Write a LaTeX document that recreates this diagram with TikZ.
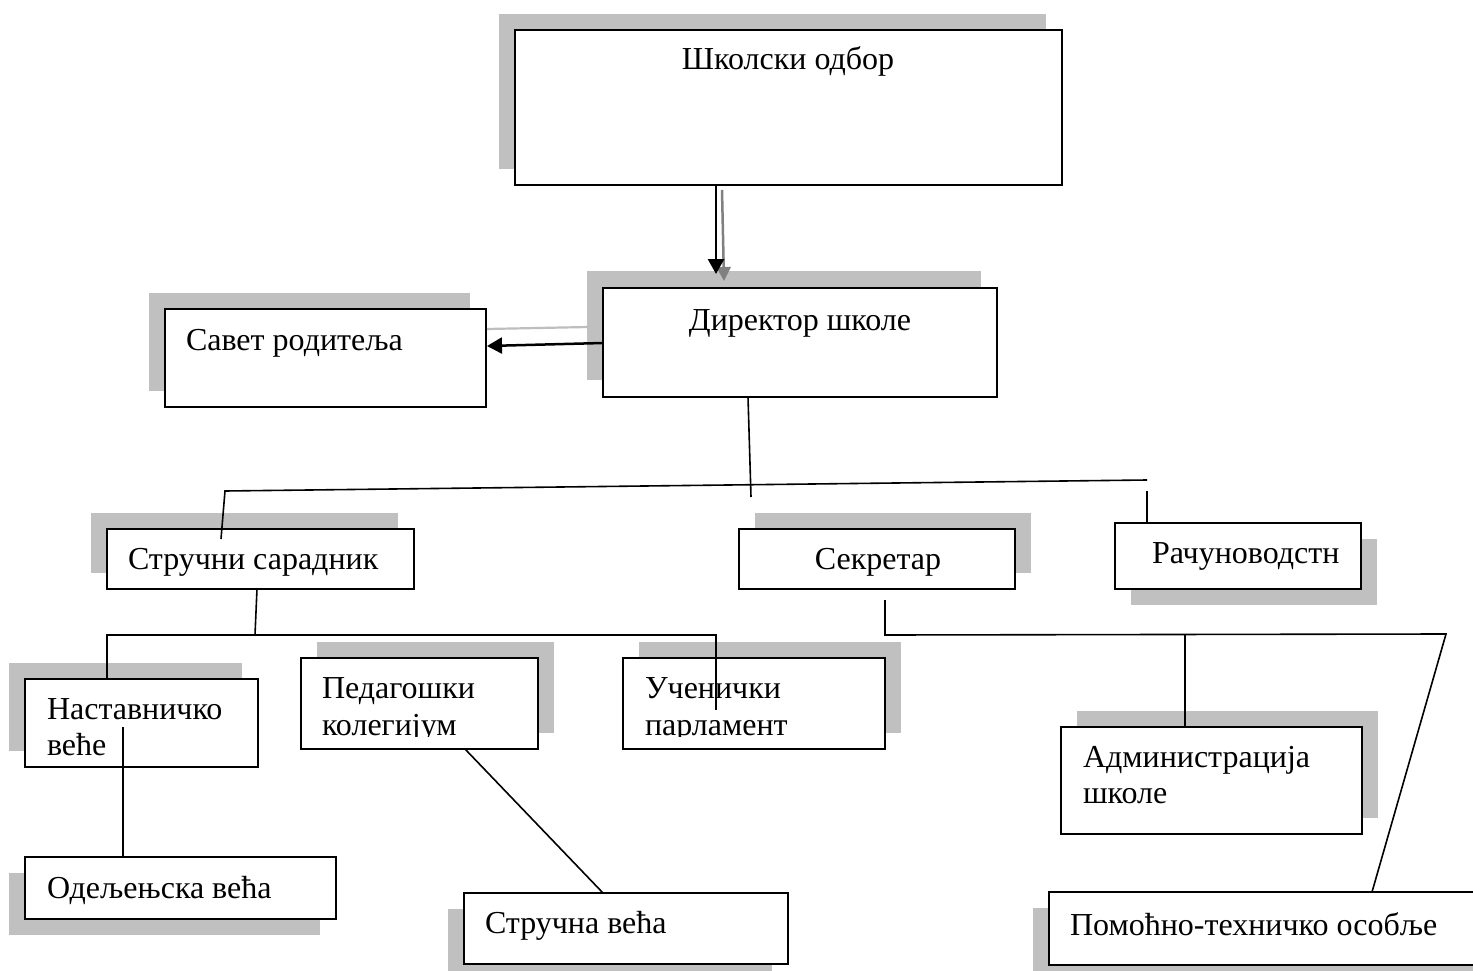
\documentclass[tikz,border=0pt]{standalone}
\usepackage{fontspec}
\setmainfont{Liberation Serif}
\usetikzlibrary{arrows.meta}
\definecolor{shadowgray}{RGB}{192,192,192}
\definecolor{arrowgray}{RGB}{128,128,128}
\definecolor{linegray}{RGB}{190,190,190}
\tikzset{
  boxst/.style={draw=black, fill=white, line width=2pt, inner sep=0pt, outer sep=0pt},
  txt/.style={inner sep=0pt, outer sep=0pt, font=\fontsize{32}{36}\selectfont},
  conn/.style={line width=1.6pt, line join=miter},
  arr/.style={line width=2.5pt, -{Triangle[width=16pt,length=15pt]}},
  garr/.style={draw=arrowgray, line width=2.5pt, -{Triangle[width=14pt,length=14pt,fill=arrowgray]}},
  gline/.style={draw=linegray, line width=2.2pt},
}
\newcommand\orgbox[7]{%
  \fill[shadowgray] ({#2+(#6)},{#3+(#7)}) rectangle ({#4+(#6)},{#5+(#7)});
  \node[boxst, minimum width={#4-#2}, minimum height={#5-#3}, anchor=north west] (#1) at (#2,#3) {};
}
\begin{document}
\begin{tikzpicture}[x=1pt,y=-1pt]
\useasboundingbox (0,0) rectangle (1473,971);
\clip (0,0) rectangle (1473,971);
\fill[white] (0,0) rectangle (1473,971);

% boxes with shadows
\orgbox{odbor}{515}{30}{1062}{185}{-16}{-16}
\orgbox{dir}{603}{288}{997}{397}{-16}{-17}
\orgbox{savet}{165}{309}{486}{407}{-16}{-16}
\orgbox{strs}{107}{529}{414}{589}{-16}{-16}
\orgbox{sekr}{739}{529}{1015}{589}{16}{-16}
\orgbox{racun}{1115}{523}{1361}{589}{16}{16}
\orgbox{nast}{25}{679}{258}{767}{-16}{-16}
\orgbox{ped}{301}{658}{538}{749}{16}{-16}
\orgbox{ucen}{623}{658}{885}{749}{16}{-16}
\orgbox{adm}{1061}{727}{1362}{834}{16}{-16}
\orgbox{odelj}{25}{857}{336}{919}{-16}{16}
\orgbox{strv}{464}{893}{788}{964}{-16}{16}
\orgbox{pom}{1049}{892}{1490}{965}{-16}{16}

% texts
\node[txt, anchor=base] (todbor) at (788,70) {Школски одбор};
\node[txt, anchor=base] (tdir) at (800,330) {Директор школе};
\node[txt, anchor=base west] (tsavet) at (186,350) {Савет родитеља};
\node[txt, anchor=base west] (tstrs) at (128,569) {Стручни сарадник};
\node[txt, anchor=base] (tsekr) at (878,569) {Секретар};
\node[txt, anchor=base west] (tracun) at (1152,563) {Рачуноводстн};
\node[txt, anchor=base west] (tnast1) at (47,719) {Наставничко};
\node[txt, anchor=base west] (tnast2) at (47,755) {веће};
\node[txt, anchor=base west] (tped1) at (322,698) {Педагошки};
\begin{scope}
\clip (301,700) rectangle (538,736);
\node[txt, anchor=base west] (tped2) at (322,735) {колегијум};
\end{scope}
\node[txt, anchor=base west] (tucen1) at (645,698) {Ученички};
\begin{scope}
\clip (623,700) rectangle (885,736);
\node[txt, anchor=base west] (tucen2) at (645,735) {парламент};
\end{scope}
\node[txt, anchor=base west] (tadm1) at (1083,767) {Администрација};
\node[txt, anchor=base west] (tadm2) at (1083,803) {школе};
\node[txt, anchor=base west] (todelj) at (47,898) {Одељењска већа};
\node[txt, anchor=base west] (tstrv) at (485,933) {Стручна већа};
\node[txt, anchor=base west] (tpom) at (1070,935) {Помоћно-техничко особље};

% connector points
\coordinate (a1s) at (716,185); \coordinate (a1e) at (716,274);
\coordinate (a2s) at (722,190); \coordinate (a2e) at (724,281);
\coordinate (b1s) at (588,327); \coordinate (b1e) at (487,329);
\coordinate (b2s) at (603,343); \coordinate (b2e) at (487,346);
\coordinate (d1) at (748,397); \coordinate (d2) at (751,497);
\coordinate (h1) at (221,539); \coordinate (h2) at (225,491); \coordinate (h3) at (1147,480);
\coordinate (r1) at (1147,491); \coordinate (r2) at (1147,523);
\coordinate (s1) at (257,589); \coordinate (s2) at (255,635);
\coordinate (k1) at (107,679); \coordinate (k2) at (107,635); \coordinate (k3) at (716,635); \coordinate (k4) at (716,710);
\coordinate (n1) at (123,727); \coordinate (n2) at (123,857);
\coordinate (p1) at (465,749); \coordinate (p2) at (603,893);
\coordinate (e1) at (885,600); \coordinate (e2) at (885,635); \coordinate (e3) at (1446,634); \coordinate (e4) at (1372,892);
\coordinate (m1) at (1185,635); \coordinate (m2) at (1185,727);

% connectors
\draw[garr] (a2s) -- (a2e);
\draw[arr] (a1s) -- (a1e);
\draw[gline] (b1s) -- (b1e);
\draw[arr] (b2s) -- (b2e);
\draw[conn] (d1) -- (d2);
\draw[conn] (h1) -- (h2) -- (h3);
\draw[conn] (r1) -- (r2);
\draw[conn] (s1) -- (s2);
\draw[conn] (k1) -- (k2) -- (k3) -- (k4);
\draw[conn] (n1) -- (n2);
\draw[conn] (p1) -- (p2);
\draw[conn] (e1) -- (e2) -- (e3) -- (e4);
\draw[conn] (m1) -- (m2);
\end{tikzpicture}
\end{document}
